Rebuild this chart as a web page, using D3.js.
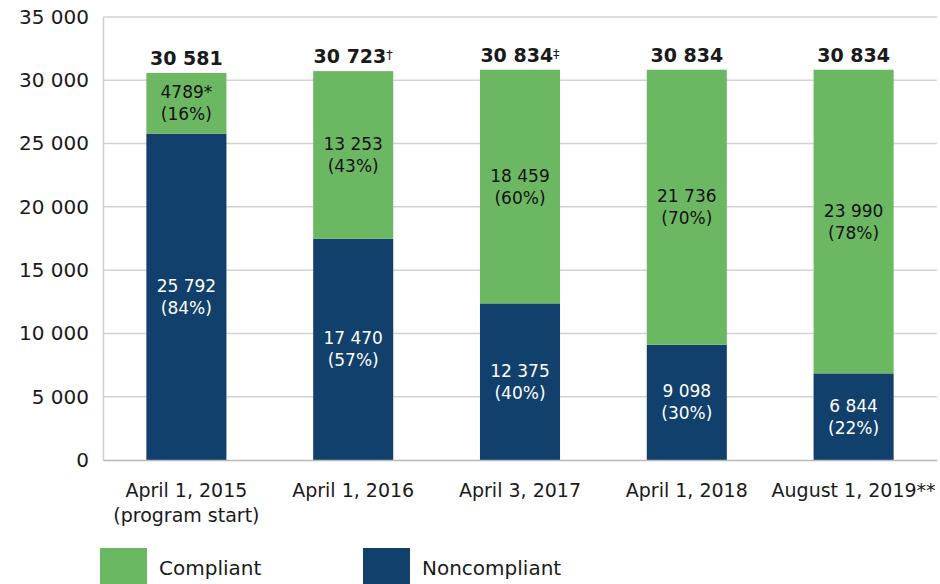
<!DOCTYPE html>
<html lang="en">
<head>
    <meta charset="UTF-8">
    <title>Compliance</title>
    <script src="https://d3js.org/d3.v7.min.js"></script>
    <style>
        body { margin: 0; background: #fff; }
        text { font-family: "DejaVu Sans", sans-serif; fill: #1a1a1a; }
        .grid line { stroke: #d3d3d3; stroke-width: 1.5; }
    </style>
</head>
<body>
<script>
    const width  = 940;
    const height = 584;

    const dates = ["April 1, 2015", "April 1, 2016", "April 3, 2017", "April 1, 2018", "August 1, 2019**"];
    const dateSub = ["(program start)", "", "", "", ""];
    const compliant    = [4789, 13253, 18459, 21736, 23990];
    const noncompliant = [25792, 17470, 12375, 9098, 6844];
    const totals       = [30581, 30723, 30834, 30834, 30834];
    const totalMarks   = ["", "\u2020", "\u2021", "", ""];
    const compliantPct    = [16, 43, 60, 70, 78];
    const noncompliantPct = [84, 57, 40, 30, 22];
    const compliantMark   = ["*", "", "", "", ""];
    const yTicks = [0, 5000, 10000, 15000, 20000, 25000, 30000, 35000];

    const green = "#6cb862";
    const navy  = "#11406c";

    const margin = {left: 103, right: 3, top: 17, bottom: 124};

    const fmt = v => d3.format(",")(v).replace(/,/g, " ");

    const svg = d3.select("body").append("svg").attr("width", width).attr("height", height);

    const x = d3.scaleBand()
            .domain(dates)
            .range([margin.left, width - margin.right])
            .paddingInner(0.52)
            .paddingOuter(0.26);

    const y = d3.scaleLinear()
            .domain([0, 35000])
            .range([height - margin.bottom, margin.top]);

    // gridlines
    svg.append("g").attr("class", "grid")
            .selectAll("line")
            .data(yTicks.filter(d => d > 0))
            .enter().append("line")
            .attr("x1", margin.left).attr("x2", width - margin.right)
            .attr("y1", d => y(d)).attr("y2", d => y(d));

    // y axis
    const yAxis = svg.append("g")
            .attr("transform", `translate(${margin.left},0)`)
            .call(d3.axisLeft(y).tickValues(yTicks).tickSize(0).tickPadding(14).tickFormat(fmt));
    yAxis.select(".domain").attr("stroke", "#cfcfcf").attr("stroke-width", 1.5);
    yAxis.selectAll("text").style("font-size", "20px").attr("fill", "#1a1a1a");

    // stacked data
    const rows = dates.map((d, i) => ({date: d, nc: noncompliant[i], c: compliant[i]}));
    const stack = d3.stack().keys(["nc", "c"])(rows);
    const colors = {nc: navy, c: green};

    svg.selectAll("g.layer")
            .data(stack)
            .enter().append("g").attr("class", "layer")
            .attr("fill", s => colors[s.key])
            .selectAll("rect")
            .data(s => s)
            .enter().append("rect")
            .attr("x", d => x(d.data.date))
            .attr("width", x.bandwidth())
            .attr("y", d => y(d[1]))
            .attr("height", d => y(d[0]) - y(d[1]));

    // x axis baseline
    const xAxis = svg.append("g")
            .attr("transform", `translate(0,${y(0)})`)
            .call(d3.axisBottom(x).tickSize(0).tickPadding(0).tickFormat(""));
    xAxis.select(".domain").attr("stroke", "#b9b9b9").attr("stroke-width", 1.5);

    // x labels
    const xl = svg.append("g");
    dates.forEach((d, i) => {
        const cx = x(d) + x.bandwidth() / 2;
        xl.append("text").attr("x", cx).attr("y", y(0) + 37)
                .attr("text-anchor", "middle").style("font-size", "19px").text(d);
        if (dateSub[i]) {
            xl.append("text").attr("x", cx).attr("y", y(0) + 62)
                    .attr("text-anchor", "middle").style("font-size", "19px").text(dateSub[i]);
        }
    });

    // totals
    const tot = svg.append("g").selectAll("text")
            .data(totals)
            .enter().append("text")
            .attr("x", (d, i) => x(dates[i]) + x.bandwidth() / 2)
            .attr("y", d => y(d) - 8)
            .attr("text-anchor", "middle")
            .style("font-size", "19px").style("font-weight", "700");
    tot.append("tspan").text(d => fmt(d));
    tot.append("tspan")
            .style("font-size", "13px").style("font-weight", "400")
            .attr("dy", -4)
            .text((d, i) => totalMarks[i]);

    // segment labels
    function segLabel(vals, pcts, marks, lower, color) {
        const g = svg.append("g");
        vals.forEach((v, i) => {
            const lo = lower ? 0 : noncompliant[i];
            const cy = (y(lo) + y(lo + v)) / 2;
            const cx = x(dates[i]) + x.bandwidth() / 2;
            const t = g.append("text").attr("text-anchor", "middle")
                    .style("font-size", "17px")
                    .style("fill", color);
            t.append("tspan").attr("x", cx).attr("y", cy - 5)
                    .text((v < 10000 && !lower ? String(v) : fmt(v)) + marks[i]);
            t.append("tspan").attr("x", cx).attr("y", cy + 17).text("(" + pcts[i] + "%)");
        });
    }
    segLabel(compliant, compliantPct, compliantMark, false, "#111");
    segLabel(noncompliant, noncompliantPct, ["", "", "", "", ""], true, "#fff");

    // legend
    const legend = [{name: "Compliant", color: green, x: 100}, {name: "Noncompliant", color: navy, x: 363}];
    const lg = svg.append("g");
    legend.forEach(l => {
        lg.append("rect").attr("x", l.x).attr("y", 548).attr("width", 47).attr("height", 40).attr("fill", l.color);
        lg.append("text").attr("x", l.x + 59).attr("y", 575).style("font-size", "20px").text(l.name);
    });
</script>
</body>
</html>
